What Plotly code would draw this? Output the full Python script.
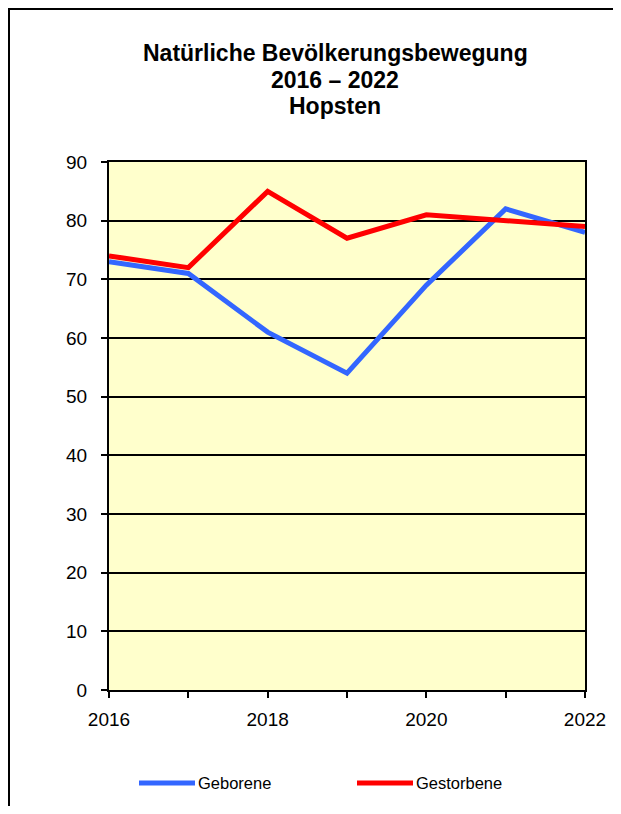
import plotly.graph_objects as go

years = [2016, 2017, 2018, 2019, 2020, 2021, 2022]
x_tick_labels = ["2016", "", "2018", "", "2020", "", "2022"]
geborene = [73, 71, 61, 54, 69, 82, 78]
gestorbene = [74, 72, 85, 77, 81, 80, 79]
series_names = ["Geborene", "Gestorbene"]
series_colors = ["#3366FF", "#FF0000"]
title_lines = ["Natürliche Bevölkerungsbewegung", "2016 – 2022", "Hopsten"]

# the page body has an 8px margin; keep the figure inside the window (no scrollbars)
OFF = 8
W, H = 621 - OFF, 814 - 2 * OFF
L, T = 109 - OFF, 162 - OFF
R = W - (585 - OFF)
B = H - (690 - OFF)
PW, PH = W - L - R, H - T - B


def px(x):  # page pixel -> paper x
    return (x - OFF - L) / PW


def py(y):  # page pixel -> paper y
    return (H - B - (y - OFF)) / PH


FONT = "Arial, 'Liberation Sans', sans-serif"

fig = go.Figure()
for name, vals, col in zip(series_names, [geborene, gestorbene], series_colors):
    fig.add_trace(go.Scatter(x=years, y=vals, mode="lines", name=name,
                             line=dict(color=col, width=5), showlegend=False))

title_y = [53, 79.5, 106]
annotations = [dict(text="<b>" + t + "</b>", xref="paper", yref="paper",
                    x=px(335), y=py(yy), xanchor="center", yanchor="middle", showarrow=False,
                    borderpad=0, font=dict(size=23, color="black", family=FONT))
               for t, yy in zip(title_lines, title_y)]

# legend drawn like the original (long line sample + label)
legend_x = [139, 357]
legend_y = 783
# chart frame: only its top and left edges are inside the window
shapes = [
    dict(type="line", xref="paper", yref="paper", x0=px(8.5), x1=px(700), y0=py(8.5), y1=py(8.5),
         line=dict(color="black", width=3), layer="below"),
    dict(type="line", xref="paper", yref="paper", x0=px(8.5), x1=px(8.5), y0=py(7), y1=py(900),
         line=dict(color="black", width=3), layer="below"),
]
for name, col, lx in zip(series_names, series_colors, legend_x):
    shapes.append(dict(type="line", xref="paper", yref="paper",
                       x0=px(lx), x1=px(lx + 56), y0=py(legend_y), y1=py(legend_y),
                       line=dict(color=col, width=5)))
    annotations.append(dict(text=name, xref="paper", yref="paper", x=px(lx + 57), y=py(legend_y),
                            xanchor="left", yanchor="middle", showarrow=False,
                            font=dict(size=16.5, color="black", family=FONT)))

fig.update_layout(
    width=W, height=H,
    margin=dict(l=L, r=R, t=T, b=B, pad=0),
    paper_bgcolor="white",
    plot_bgcolor="#FFFFCC",
    font=dict(family=FONT, color="black"),
    showlegend=False,
    xaxis=dict(range=[2016, 2022], tickvals=years, ticktext=x_tick_labels,
               ticks="outside", ticklen=6, tickwidth=2, tickcolor="black",
               showline=True, linecolor="black", linewidth=2, mirror=True,
               showgrid=False, zeroline=False, tickfont=dict(size=19, color="black"),
               ticklabelstandoff=5),
    yaxis=dict(range=[0, 90], dtick=10, ticks="outside", ticklen=6, tickwidth=2, tickcolor="black",
               showline=True, linecolor="black", linewidth=2, mirror=True,
               showgrid=True, gridcolor="black", gridwidth=2, zeroline=False,
               tickfont=dict(size=19, color="black"), ticklabelstandoff=10),
    annotations=annotations,
    shapes=shapes,
)

fig.write_html("out.html")
